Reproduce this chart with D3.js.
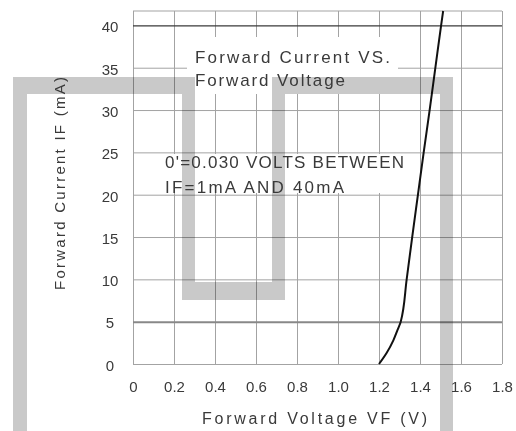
<!DOCTYPE html>
<html>
<head>
<meta charset="utf-8">
<script src="https://cdn.jsdelivr.net/npm/d3@7"></script>
<style>
  body { margin: 0; background: #fff; }
  svg { display: block; }
  text { font-family: "Liberation Sans", Arial, sans-serif; fill: #3a3a3a; }
</style>
</head>
<body>
<div id="chart"></div>
<script>
// forward voltage (V) vs forward current (mA)
const vf = [1.2, 1.237, 1.27, 1.29, 1.306, 1.335, 1.362, 1.39, 1.418, 1.447, 1.475, 1.503, 1.513];
const iF = [0, 1.3, 2.8, 4, 5, 10, 15, 20, 25, 30, 35, 40, 41.7];

const xTicks = [0, 0.2, 0.4, 0.6, 0.8, 1.0, 1.2, 1.4, 1.6, 1.8];
const xTickLabels = ["0", "0.2", "0.4", "0.6", "0.8", "1.0", "1.2", "1.4", "1.6", "1.8"];
const yTicks = [0, 5, 10, 15, 20, 25, 30, 35, 40];
const yTickLabels = ["0", "5", "10", "15", "20", "25", "30", "35", "40"];

const width = 516, height = 431;

const svg = d3.select('#chart')
    .append('svg')
    .attr('width', width)
    .attr('height', height);

var x = d3.scaleLinear().domain([0, 1.8]).range([133, 502]);
var y = d3.scaleLinear().domain([0, 41.7]).range([364, 11]);

// vertical grid + x labels
var gx = svg.append("g")
    .attr("transform", "translate(0," + y(0) + ")")
    .call(d3.axisBottom(x)
      .tickValues(xTicks)
      .tickFormat(function(d, i) { return xTickLabels[i]; })
      .tickSize(-(y(0) - y(41.7)))
      .tickPadding(17));
gx.select(".domain").remove();
gx.selectAll("line").attr("stroke", "#a3a3a3");
gx.selectAll("text").style("font-size", "15px").attr("fill", "#3a3a3a");

// horizontal grid + y labels
var gy = svg.append("g")
    .attr("transform", "translate(" + x(0) + ",0)")
    .call(d3.axisLeft(y)
      .tickValues(yTicks)
      .tickFormat(function(d, i) { return yTickLabels[i]; })
      .tickSize(-(x(1.8) - x(0))));
gy.select(".domain").remove();
gy.selectAll("line")
    .attr("stroke", function(d) { return d == 40 ? "#3a3a3a" : (d == 5 ? "#888" : "#a3a3a3"); })
    .attr("stroke-width", function(d) { return d == 5 ? 2 : (d == 40 ? 1.3 : 1); });
gy.selectAll("text")
    .style("font-size", "15px")
    .attr("fill", "#3a3a3a")
    .attr("text-anchor", "middle")
    .attr("x", 110 - x(0))
    .attr("dy", "0.42em");

// top border of frame
svg.append("line")
    .attr("x1", x(0)).attr("x2", x(1.8))
    .attr("y1", y(41.7)).attr("y2", y(41.7))
    .attr("stroke", "#a3a3a3");

// the curve
var line = d3.line()
    .x(function(d, i) { return x(vf[i]); })
    .y(function(d, i) { return y(iF[i]); })
    .curve(d3.curveMonotoneY);

svg.append("path")
    .datum(vf)
    .attr("d", line)
    .attr("fill", "none")
    .attr("stroke", "#111")
    .attr("stroke-width", 2);

// white boxes behind the notes
svg.append("rect").attr("x", 187).attr("y", 37).attr("width", 211).attr("height", 57).attr("fill", "#fff");
svg.append("rect").attr("x", 160).attr("y", 154).attr("width", 248).attr("height", 39).attr("fill", "#fff");

// grey bands over the drawing, one path so joints are not doubled
var bands = [
  [13, 77, 14, 354], [13, 77, 182, 17], [182, 77, 13, 223], [182, 282, 103, 18],
  [272, 77, 13, 223], [272, 77, 181, 17], [440, 77, 13, 354]
];
var bp = d3.path();
bands.forEach(function(d) { bp.rect(d[0], d[1], d[2], d[3]); });
svg.append("path")
    .attr("d", bp.toString())
    .attr("fill", "#c9c9c9")
    .style("mix-blend-mode", "multiply");

// texts
function note(str, tx, ty, len) {
  svg.append("text")
    .attr("x", tx).attr("y", ty)
    .attr("textLength", len)
    .attr("lengthAdjust", "spacing")
    .style("font-size", "17px")
    .text(str);
}
note("Forward Current VS.", 195, 63, 195);
note("Forward Voltage", 195, 86, 150);
note("0'=0.030 VOLTS BETWEEN", 165, 168, 239);
note("IF=1mA AND 40mA", 165, 193, 179);

svg.append("text")
    .attr("x", 202).attr("y", 424)
    .attr("textLength", 225)
    .attr("lengthAdjust", "spacing")
    .style("font-size", "16px")
    .text("Forward Voltage VF (V)");

svg.append("text")
    .attr("transform", "translate(65,290) rotate(-90)")
    .attr("textLength", 213)
    .attr("lengthAdjust", "spacing")
    .style("font-size", "15px")
    .text("Forward Current IF (mA)");
</script>
</body>
</html>
